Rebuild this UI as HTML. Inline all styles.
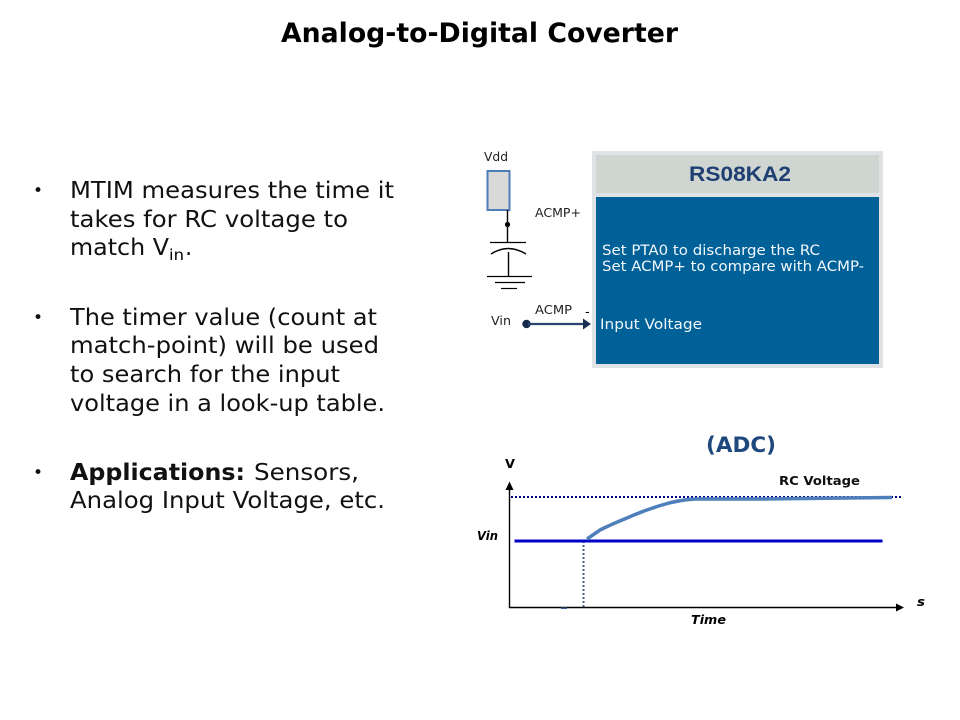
<!DOCTYPE html>
<html>
<head>
<meta charset="utf-8">
<style>
html,body{margin:0;padding:0;background:#fff;width:960px;height:720px;overflow:hidden}
svg{display:block}
text{font-family:"DejaVu Sans",sans-serif;fill:#000}
.b{font-size:23px;fill:#111}
.d{font-size:17px;fill:#111}
.s{font-size:12.5px;fill:#222}
.w{font-size:14.5px;fill:#f2f8fb}
</style>
</head>
<body>
<svg width="960" height="720" viewBox="0 0 960 720" xmlns="http://www.w3.org/2000/svg">
<text x="281" y="42" font-size="27" font-weight="bold" textLength="397" lengthAdjust="spacingAndGlyphs">Analog-to-Digital Coverter</text>

<text x="33" y="196" class="d">•</text>
<text x="70" y="198" class="b" textLength="324" lengthAdjust="spacingAndGlyphs">MTIM measures the time it</text>
<text x="70" y="227" class="b" textLength="278" lengthAdjust="spacingAndGlyphs">takes for RC voltage to</text>
<text x="70" y="255" class="b" textLength="99" lengthAdjust="spacingAndGlyphs">match V</text>
<text x="169" y="260" font-size="15" fill="#111" textLength="15" lengthAdjust="spacingAndGlyphs">in</text>
<text x="185" y="255" class="b">.</text>

<text x="33" y="323" class="d">•</text>
<text x="70" y="325" class="b" textLength="307" lengthAdjust="spacingAndGlyphs">The timer value (count at</text>
<text x="70" y="353" class="b" textLength="309" lengthAdjust="spacingAndGlyphs">match-point) will be used</text>
<text x="70" y="382" class="b" textLength="270" lengthAdjust="spacingAndGlyphs">to search for the input</text>
<text x="70" y="411" class="b" textLength="315" lengthAdjust="spacingAndGlyphs">voltage in a look-up table.</text>

<text x="33" y="478" class="d">•</text>
<text x="70" y="480" class="b" font-weight="bold" textLength="175" lengthAdjust="spacingAndGlyphs">Applications:</text>
<text x="254" y="480" class="b" textLength="105" lengthAdjust="spacingAndGlyphs">Sensors,</text>
<text x="70" y="508" class="b" textLength="315" lengthAdjust="spacingAndGlyphs">Analog Input Voltage, etc.</text>

<!-- RC circuit -->
<text x="484" y="161" class="s" textLength="24" lengthAdjust="spacingAndGlyphs">Vdd</text>
<rect x="487.5" y="171" width="22" height="39" fill="#d9d9d9" stroke="#4f7db5" stroke-width="2"/>
<line x1="507.5" y1="210" x2="507.5" y2="242" stroke="#000" stroke-width="1.4"/>
<circle cx="507.5" cy="224.5" r="2.6" fill="#000"/>
<line x1="490" y1="242.5" x2="526" y2="242.5" stroke="#000" stroke-width="1.2"/>
<path d="M491 254 Q508 243 526 254" fill="none" stroke="#000" stroke-width="1.4"/>
<line x1="508.5" y1="252" x2="508.5" y2="276" stroke="#000" stroke-width="1.4"/>
<line x1="487" y1="276.5" x2="532" y2="276.5" stroke="#000" stroke-width="1.2"/>
<line x1="495" y1="282.5" x2="525" y2="282.5" stroke="#000" stroke-width="1.2"/>
<line x1="501" y1="288.5" x2="517" y2="288.5" stroke="#000" stroke-width="1.2"/>
<text x="535" y="217" class="s" textLength="46" lengthAdjust="spacingAndGlyphs">ACMP+</text>
<text x="535" y="314" class="s" textLength="37" lengthAdjust="spacingAndGlyphs">ACMP</text>
<text x="585" y="316" font-size="13" fill="#222">-</text>
<text x="491" y="325" class="s" textLength="20" lengthAdjust="spacingAndGlyphs">Vin</text>
<circle cx="526.5" cy="324" r="4.2" fill="#16284a"/>
<line x1="528" y1="324" x2="584" y2="324" stroke="#2a4470" stroke-width="2.2"/>
<path d="M583 318.5 L591 324 L583 329.5 Z" fill="#1b2f55"/>

<!-- MCU box -->
<rect x="592" y="151" width="291" height="217" fill="#dfe3e5"/>
<rect x="596" y="155" width="283" height="38" fill="#cfd6d2"/>
<rect x="596" y="197" width="283" height="167" fill="#006098"/>
<text x="689" y="181" font-size="21" font-weight="bold" style="font-family:'Liberation Sans',sans-serif;fill:#1f3f73" textLength="102" lengthAdjust="spacingAndGlyphs">RS08KA2</text>
<text x="602" y="255" class="w" textLength="218" lengthAdjust="spacingAndGlyphs">Set PTA0 to discharge the RC</text>
<text x="602" y="271" class="w" textLength="262" lengthAdjust="spacingAndGlyphs">Set ACMP+ to compare with ACMP-</text>
<text x="600" y="329" class="w" textLength="102" lengthAdjust="spacingAndGlyphs">Input Voltage</text>

<!-- Chart -->
<text x="706" y="452" font-size="21" font-weight="bold" style="fill:#1f497d" textLength="70" lengthAdjust="spacingAndGlyphs">(ADC)</text>
<text x="505" y="468" font-size="12" font-weight="bold" textLength="10" lengthAdjust="spacingAndGlyphs">V</text>
<text x="779" y="485" font-size="12.5" font-weight="bold" style="fill:#111" textLength="81" lengthAdjust="spacingAndGlyphs">RC Voltage</text>
<text x="477" y="540" font-size="12.5" font-weight="bold" font-style="italic" textLength="21" lengthAdjust="spacingAndGlyphs">Vin</text>
<text x="691" y="624" font-size="12.5" font-weight="bold" font-style="italic" textLength="35" lengthAdjust="spacingAndGlyphs">Time</text>
<text x="917" y="606" font-size="12" font-weight="bold" font-style="italic" textLength="8" lengthAdjust="spacingAndGlyphs">s</text>

<line x1="509.5" y1="488" x2="509.5" y2="608" stroke="#000" stroke-width="1.4"/>
<path d="M505.5 490 L509.5 481.5 L513.5 490 Z" fill="#000"/>
<line x1="509" y1="607.5" x2="898" y2="607.5" stroke="#000" stroke-width="1.4"/>
<path d="M896 603.5 L904 607.5 L896 611.5 Z" fill="#000"/>
<line x1="511" y1="497" x2="901" y2="497" stroke="#000080" stroke-width="2" stroke-dasharray="2 2"/>
<line x1="583.5" y1="541" x2="583.5" y2="607" stroke="#4f5f85" stroke-width="2" stroke-dasharray="2 2"/>
<line x1="514.5" y1="541" x2="882.5" y2="541" stroke="#0000c8" stroke-width="3"/>
<path d="M587 539 L600 530 Q612 524 627 518 Q645 510 662 505 Q678 500 695 499 L760 499 L892 497.5" fill="none" stroke="#4f7fbb" stroke-width="3.5"/>
<rect x="561" y="607.5" width="6" height="1.5" fill="#3a5f90"/>
</svg>
</body>
</html>
